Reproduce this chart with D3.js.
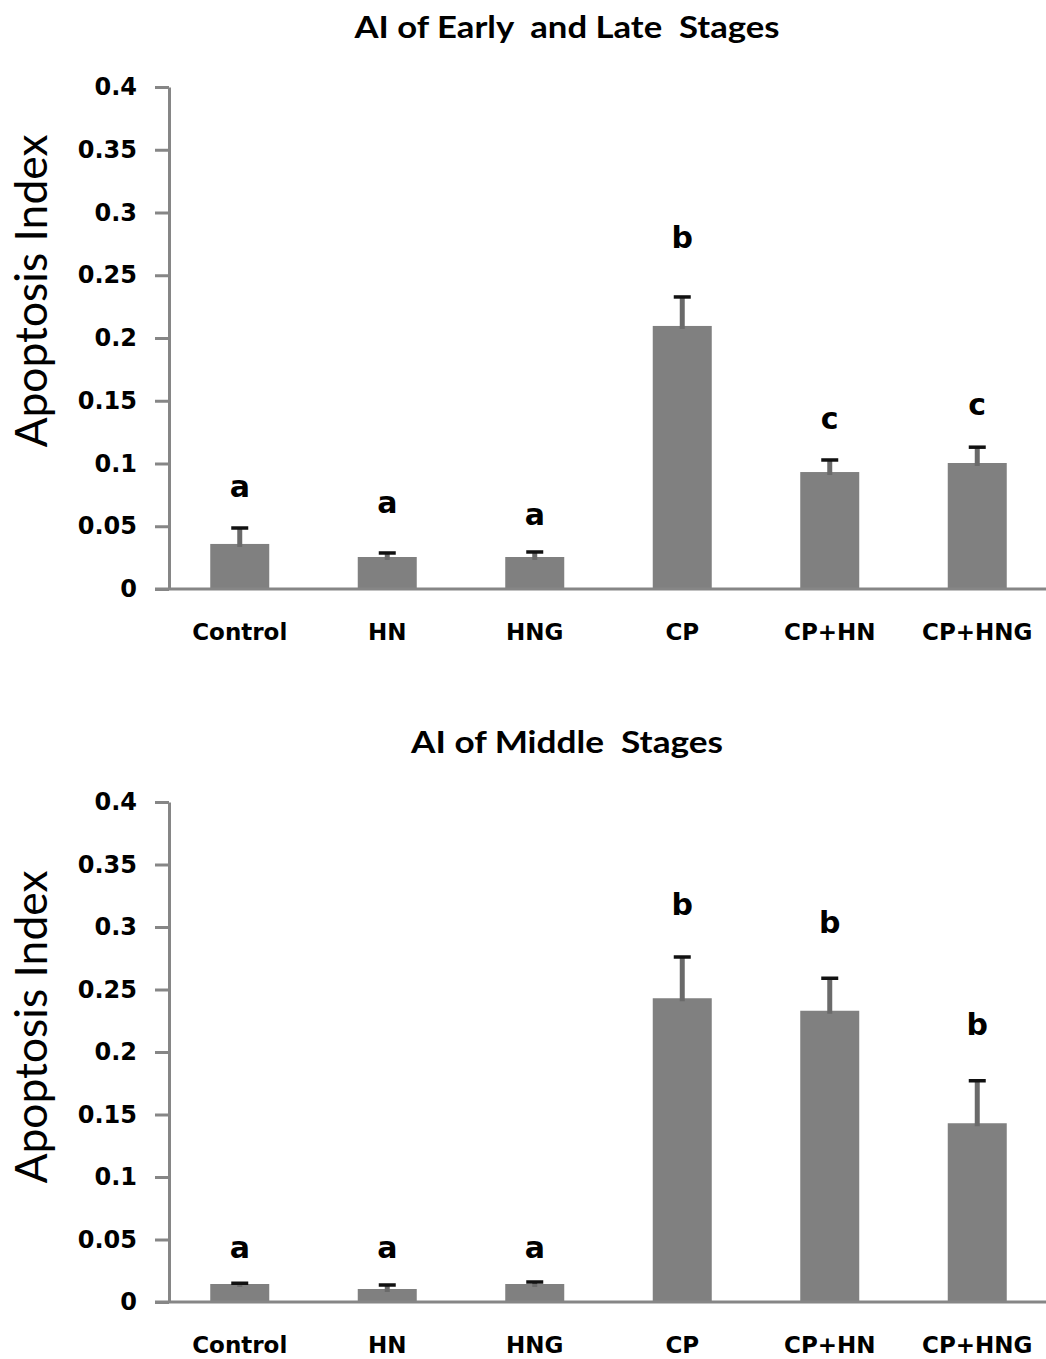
<!DOCTYPE html>
<html>
<head>
<meta charset="utf-8">
<script src="https://cdn.jsdelivr.net/npm/d3@7"></script>
<style>
  html, body { margin: 0; padding: 0; background: #fff; }
  svg { display: block; }
</style>
</head>
<body>
<svg id="chart" width="1046" height="1359"></svg>
<script>
// ---------- data ----------
const categories = ["Control", "HN", "HNG", "CP", "CP+HN", "CP+HNG"];
const yTicks = [0, 0.05, 0.1, 0.15, 0.2, 0.25, 0.3, 0.35, 0.4];
const yTickLabels = ["0", "0.05", "0.1", "0.15", "0.2", "0.25", "0.3", "0.35", "0.4"];

const earlyLateTitle = "AI of Early  and Late  Stages";
const earlyLateMeans = [0.0359, 0.0255, 0.0255, 0.2096, 0.0932, 0.1004];
const earlyLateErrTop = [0.0486, 0.0287, 0.0295, 0.2327, 0.1028, 0.1130];
const earlyLateLetters = ["a", "a", "a", "b", "c", "c"];
const earlyLateLetterY = [0.0733, 0.0606, 0.0510, 0.2717, 0.1275, 0.1386];

const middleTitle = "AI of Middle  Stages";
const middleMeans = [0.0144, 0.0104, 0.0144, 0.2430, 0.2330, 0.1430];
const middleErrTop = [0.0150, 0.0136, 0.0160, 0.2760, 0.2590, 0.1770];
const middleLetters = ["a", "a", "a", "b", "b", "b"];
const middleLetterY = [0.0352, 0.0352, 0.0352, 0.3096, 0.2952, 0.2136];

const yLabel = "Apoptosis Index";

// ---------- drawing ----------
const svg = d3.select("#chart");
const axisColor = "#868686";
const barColor = "#808080";

function panel(cfg) {
  const g = svg.append("g");
  const x = d3.scaleBand().domain(categories).range([166, 1051])
    .paddingInner(0.6).paddingOuter(0.3);
  const y = d3.scaleLinear().domain([0, 0.4]).range([cfg.y0, cfg.y1]);
  const axisX = 169;

  // title
  g.append("text")
    .attr("x", 567).attr("y", cfg.titleY)
    .attr("text-anchor", "middle")
    .attr("font-family", "Lato")
    .attr("font-weight", "bold")
    .attr("font-size", 31)
    .attr("fill", "#000")
    .attr("textLength", cfg.titleLen)
    .attr("lengthAdjust", "spacingAndGlyphs")
    .style("white-space", "pre")
    .text(cfg.title);

  // y axis label
  g.append("text")
    .attr("transform", `translate(47,${cfg.labelCY}) rotate(-90)`)
    .attr("text-anchor", "middle")
    .attr("font-family", "Lato")
    .attr("font-size", 44)
    .attr("fill", "#000")
    .attr("textLength", 313)
    .attr("lengthAdjust", "spacingAndGlyphs")
    .text(yLabel);

  // y axis
  const yAxis = d3.axisLeft(y).tickValues(yTicks)
    .tickFormat((d, i) => yTickLabels[i]).tickSize(14).tickSizeOuter(0).tickPadding(18);
  const ya = g.append("g").attr("transform", `translate(${axisX},0)`).call(yAxis);
  ya.select(".domain").attr("stroke", axisColor).attr("stroke-width", 3);
  ya.selectAll(".tick line").attr("stroke", axisColor).attr("stroke-width", 3);
  ya.selectAll(".tick text")
    .attr("font-family", "DejaVu Sans").attr("font-weight", "bold")
    .attr("font-size", 24).attr("fill", "#000");

  // bars
  g.selectAll("rect.bar").data(cfg.means).enter().append("rect")
    .attr("class", "bar")
    .attr("x", (d, i) => x(categories[i]))
    .attr("width", x.bandwidth())
    .attr("y", d => y(d))
    .attr("height", d => y(0) - y(d))
    .attr("fill", barColor);

  // error bar stems
  g.selectAll("line.stem").data(cfg.errTop).enter().append("line")
    .attr("x1", (d, i) => x(categories[i]) + x.bandwidth() / 2)
    .attr("x2", (d, i) => x(categories[i]) + x.bandwidth() / 2)
    .attr("y1", d => y(d))
    .attr("y2", (d, i) => y(cfg.means[i]) + 3)
    .attr("stroke", "#6a6a6a").attr("stroke-width", 5);
  g.selectAll("line.cap").data(cfg.errTop).enter().append("line")
    .attr("x1", (d, i) => x(categories[i]) + x.bandwidth() / 2 - 8.5)
    .attr("x2", (d, i) => x(categories[i]) + x.bandwidth() / 2 + 8.5)
    .attr("y1", d => y(d))
    .attr("y2", d => y(d))
    .attr("stroke", "#111").attr("stroke-width", 3.5);

  // x axis
  const xAxis = d3.axisBottom(x).tickSize(0).tickSizeOuter(0).tickPadding(35);
  const xa = g.append("g").attr("transform", `translate(0,${y(0)})`).call(xAxis);
  xa.select(".domain").remove();
  g.append("line")
    .attr("x1", 155).attr("x2", 1046)
    .attr("y1", y(0)).attr("y2", y(0))
    .attr("stroke", axisColor).attr("stroke-width", 3);
  xa.selectAll(".tick text")
    .attr("font-family", "DejaVu Sans").attr("font-weight", "bold")
    .attr("font-size", 23).attr("fill", "#000");

  // significance letters
  g.selectAll("text.sig").data(cfg.letters).enter().append("text")
    .attr("class", "sig")
    .attr("x", (d, i) => x(categories[i]) + x.bandwidth() / 2)
    .attr("y", (d, i) => y(cfg.letterY[i]))
    .attr("text-anchor", "middle")
    .attr("font-family", "DejaVu Sans").attr("font-weight", "bold")
    .attr("font-size", 30).attr("fill", "#000")
    .text(d => d);
}

panel({ title: earlyLateTitle, titleY: 38, titleLen: 425, labelCY: 291,
        y0: 589, y1: 87, means: earlyLateMeans, errTop: earlyLateErrTop,
        letters: earlyLateLetters, letterY: earlyLateLetterY });
panel({ title: middleTitle, titleY: 753, titleLen: 312, labelCY: 1027,
        y0: 1302, y1: 802, means: middleMeans, errTop: middleErrTop,
        letters: middleLetters, letterY: middleLetterY });
</script>
</body>
</html>
